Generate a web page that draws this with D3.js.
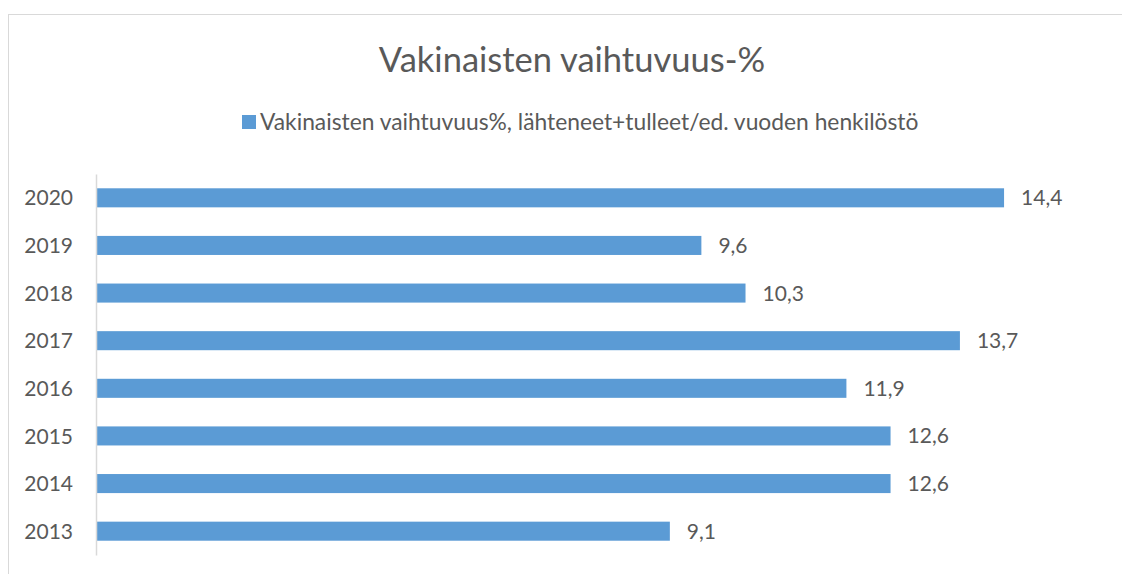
<!DOCTYPE html>
<html>
<head>
<meta charset="utf-8">
<script src="https://cdn.jsdelivr.net/npm/d3@7"></script>
<style>
  body { margin: 0; background: #fff; }
  text { font-family: Lato, "Open Sans", sans-serif; fill: #595959; }
</style>
</head>
<body>
<svg id="chart" width="1122" height="574"></svg>
<script>
const years = ["2020", "2019", "2018", "2017", "2016", "2015", "2014", "2013"];
const values = [14.4, 9.6, 10.3, 13.7, 11.9, 12.6, 12.6, 9.1];
const title = "Vakinaisten vaihtuvuus-%";
const seriesName = "Vakinaisten vaihtuvuus%, lähteneet+tulleet/ed. vuoden henkilöstö";

const svg = d3.select("#chart");
const plotLeft = 96, plotTop = 174, plotBottom = 555;

// chart frame (cropped at right and bottom)
svg.append("rect")
    .attr("x", 8.5).attr("y", 14.5)
    .attr("width", 1200).attr("height", 700)
    .attr("fill", "none").attr("stroke", "#d9d9d9");

let x = d3.scaleLinear().domain([0, 16]).range([plotLeft, plotLeft + 16 * 63.06]);
let y = d3.scaleBand().domain(years).range([plotTop, plotBottom]).paddingInner(0.6).paddingOuter(0.3);

svg.append("text")
    .attr("x", 572).attr("y", 72)
    .attr("text-anchor", "middle")
    .style("font-size", "34.5px")
    .text(title);

// legend
svg.append("rect")
    .attr("x", 242).attr("y", 115)
    .attr("width", 14).attr("height", 14)
    .attr("fill", "#5b9bd5");
svg.append("text")
    .attr("x", 260).attr("y", 130)
    .style("font-size", "22.8px")
    .text(seriesName);

svg.selectAll(".bar")
    .data(values)
    .enter()
    .append("rect")
    .attr("class", "bar")
    .attr("x", x(0))
    .attr("y", (d, i) => y(years[i]))
    .attr("width", d => x(d) - x(0))
    .attr("height", y.bandwidth())
    .attr("fill", "#5b9bd5");

svg.selectAll(".val")
    .data(values)
    .enter()
    .append("text")
    .attr("class", "val")
    .attr("x", d => x(d) + 17)
    .attr("y", (d, i) => y(years[i]) + y.bandwidth() / 2)
    .attr("dy", "0.36em")
    .style("font-size", "21px")
    .text(d => d.toFixed(1).replace(".", ","));

// category axis
const yAxis = svg.append("g")
    .attr("transform", `translate(${plotLeft},0)`)
    .call(d3.axisLeft(y).tickSize(0).tickPadding(23));
yAxis.select(".domain").attr("stroke", "#d9d9d9").attr("stroke-width", 1.5);
yAxis.selectAll("text")
    .style("font-size", "21px")
    .attr("dy", "0.36em")
    .attr("fill", "#595959")
    .style("font-family", "Lato, 'Open Sans', sans-serif");
</script>
</body>
</html>
